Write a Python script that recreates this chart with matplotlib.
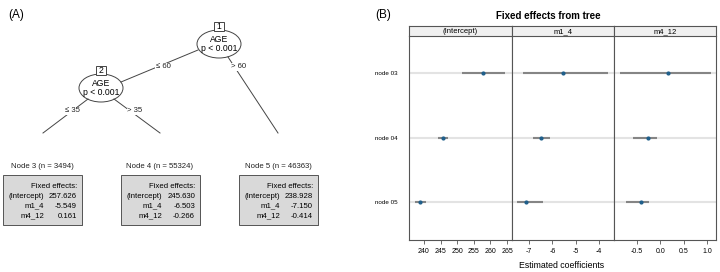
import numpy as np
import matplotlib
matplotlib.use("Agg")
import matplotlib.pyplot as plt
from matplotlib.patches import Ellipse, Rectangle

plt.rcParams['font.family'] = ['Liberation Sans', 'DejaVu Sans']

# data
nodes = ['node 03', 'node 04', 'node 05']
node_n = [3494, 55324, 46363]
terms = ['(Intercept)', 'm1_4', 'm4_12']
est_intercept = [257.626, 245.630, 238.928]
est_m1_4 = [-5.549, -6.503, -7.150]
est_m4_12 = [0.161, -0.266, -0.414]
lo_intercept = [251.5, 244.1, 237.4]
hi_intercept = [264.5, 247.3, 240.6]
lo_m1_4 = [-7.26, -6.85, -7.50]
hi_m1_4 = [-3.62, -6.12, -6.42]
lo_m4_12 = [-0.87, -0.58, -0.74]
hi_m4_12 = [1.08, -0.08, -0.24]
xticks_intercept = [240, 245, 250, 255, 260, 265]
xticks_m1_4 = [-7, -6, -5, -4]
xticks_m4_12 = [-0.5, 0.0, 0.5, 1.0]

fig = plt.figure(figsize=(7.2, 2.72), dpi=100)

# ---- (A) tree, drawn in pixel coordinates ----
ax = fig.add_axes([0, 0, 0.5, 1])
ax.set_xlim(0, 360)
ax.set_ylim(272, 0)
ax.axis('off')
ax.text(8, 15, '(A)', fontsize=8.5, ha='left', va='center')

lc = '#444444'
fs = 5.6

# edges
ax.plot([198, 121], [50, 82], color=lc, lw=0.7)
ax.plot([228, 278], [57, 133], color=lc, lw=0.7)
ax.plot([88, 43], [99, 133], color=lc, lw=0.7)
ax.plot([114, 160], [99, 133], color=lc, lw=0.7)
for x, y, s in [(163, 67, '≤ 60'), (239, 67, '> 60'), (72, 111, '≤ 35'), (135, 111, '> 35')]:
    ax.text(x, y, s, fontsize=fs, ha='center', va='center', color='#222222',
            bbox=dict(fc='white', ec='none', pad=0.5))

# inner nodes
for cx, cy, num in [(219, 44, '1'), (101, 88, '2')]:
    ax.add_patch(Ellipse((cx, cy), 44, 28, fc='white', ec=lc, lw=0.7))
    ax.text(cx, cy - 5, 'AGE', fontsize=6.2, ha='center', va='center')
    ax.text(cx, cy + 4.5, 'p < 0.001', fontsize=6.2, ha='center', va='center')
    ax.add_patch(Rectangle((cx - 5, cy - 22), 10, 9, fc='white', ec=lc, lw=0.7))
    ax.text(cx, cy - 17.5, num, fontsize=6.2, ha='center', va='center')

# terminal nodes
box_x = [3, 121, 239]
values = [est_intercept, est_m1_4, est_m4_12]
for i, bx in enumerate(box_x):
    ax.text(bx + 39, 166, 'Node %d (n = %d)' % (i + 3, node_n[i]), fontsize=fs,
            ha='center', va='center', color='#222222')
    ax.add_patch(Rectangle((bx + 1, 176), 79, 50, fc='#999999', ec='none'))
    ax.add_patch(Rectangle((bx, 175), 79, 50, fc='#d9d9d9', ec='#555555', lw=0.7))
    ax.text(bx + 74, 186, 'Fixed effects:', fontsize=fs, ha='right', va='center')
    for j, t in enumerate(terms):
        ax.text(bx + 41, 196 + 10 * j, t, fontsize=fs, ha='right', va='center')
        ax.text(bx + 74, 196 + 10 * j, '%.3f' % values[j][i], fontsize=fs,
                ha='right', va='center')

# ---- (B) fixed effects ----
fig.text(383 / 720, 1 - 15 / 272, '(B)', fontsize=8.5, ha='center', va='center')
fig.text(548 / 720, 1 - 16 / 272, 'Fixed effects from tree', fontsize=7,
         fontweight='bold', ha='center', va='center')
fig.text(562 / 720, 1 - 266 / 272, 'Estimated coefficients', fontsize=6.3,
         ha='center', va='center')

panels = [
    (est_intercept, lo_intercept, hi_intercept, (235.5, 266.5), xticks_intercept,
     [str(t) for t in xticks_intercept]),
    (est_m1_4, lo_m1_4, hi_m1_4, (-7.73, -3.36), xticks_m1_4,
     [str(t) for t in xticks_m1_4]),
    (est_m4_12, lo_m4_12, hi_m4_12, (-0.99, 1.19), xticks_m4_12,
     ['%.1f' % t for t in xticks_m4_12]),
]
edges = [409, 512, 614, 716]
rows = np.arange(1, len(nodes) + 1)
bot = 1 - 240 / 272
top = 1 - 36 / 272
for k, (est, lo, hi, xl, xt, xtl) in enumerate(panels):
    left = edges[k] / 720
    w = (edges[k + 1] - edges[k]) / 720
    a = fig.add_axes([left, bot, w, top - bot])
    for r in rows:
        a.axhline(r, color='#e3e3e3', lw=1.5, zorder=0)
    a.hlines(rows, lo, hi, color='#858585', lw=1.5, zorder=1)
    a.plot(est, rows, 'o', ms=2.0, color='#1f5f8b', zorder=2)
    a.set_xlim(*xl)
    a.set_ylim(3.58, 0.43)
    a.set_xticks(xt)
    a.set_xticklabels(xtl)
    a.tick_params(axis='x', labelsize=5, length=3, width=0.6, color='#555555', pad=3)
    if k == 0:
        a.set_yticks(rows)
        a.set_yticklabels(nodes)
        a.tick_params(axis='y', labelsize=4.5, length=0, pad=8)
    else:
        a.set_yticks([])
    for s in a.spines.values():
        s.set_color('#555555')
        s.set_linewidth(0.8)
    a.spines['top'].set_visible(False)
    # strip
    st = fig.add_axes([left, 1 - 36 / 272, w, 10 / 272])
    st.set_facecolor('#f0f0f0')
    st.set_xticks([])
    st.set_yticks([])
    for s in st.spines.values():
        s.set_color('#555555')
        s.set_linewidth(0.8)
    st.text(0.5, 0.45, terms[k], fontsize=5.5, ha='center', va='center',
            transform=st.transAxes)

fig.savefig('out.png', dpi=100)
